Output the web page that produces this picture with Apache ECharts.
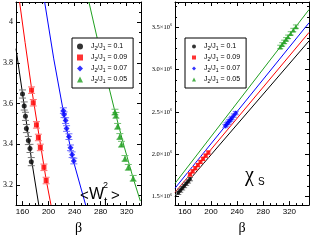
<!DOCTYPE html>
<html><head><meta charset="utf-8">
<script src="https://cdn.jsdelivr.net/npm/echarts@6/dist/echarts.min.js"></script>
<style>html,body{margin:0;padding:0;background:#fff}#c{width:310px;height:240px}</style>
</head><body><div id="c"></div>
<script>
// ---------- data: left panel  <W_t^2> ----------
const ratioLabels = ['0.1', '0.09', '0.07', '0.05'];

const blackBeta = [160, 162.6, 164.5, 166, 169, 171.5, 173.5];
const blackW    = [3.647, 3.588, 3.537, 3.477, 3.418, 3.379, 3.314];
const blackWErr = [0.02, 0.02, 0.02, 0.02, 0.02, 0.02, 0.02];
const redBeta   = [173.9, 176.5, 181.4, 184.4, 187.4, 192.9, 196.3];
const redW      = [3.666, 3.604, 3.495, 3.433, 3.384, 3.286, 3.221];
const redWErr   = [0.016, 0.016, 0.016, 0.016, 0.016, 0.016, 0.016];
const blueBeta  = [222.8, 223.8, 226.2, 227.7, 231.3, 233.7, 236.2, 238.8];
const blueW     = [3.565, 3.545, 3.516, 3.477, 3.437, 3.382, 3.348, 3.317];
const blueWErr  = [0.014, 0.014, 0.014, 0.014, 0.014, 0.014, 0.014, 0.014];
const greenBeta = [302, 303.5, 306.1, 309.5, 312, 317.4, 322.5, 330];
const greenW    = [3.558, 3.542, 3.488, 3.438, 3.400, 3.330, 3.286, 3.232];
const greenWErr = [0.014, 0.014, 0.014, 0.014, 0.014, 0.014, 0.014, 0.014];

// fit curves (left)
const blackFitBeta = [150, 160, 173.5, 185];
const blackFitW    = [3.87, 3.65, 3.33, 3.1];
const redFitBeta   = [155.5, 164, 173.9, 185, 196.3, 203.8];
const redFitW      = [4.1, 3.9, 3.675, 3.45, 3.225, 3.1];
const blueFitBeta  = [194, 208, 222.8, 230.5, 238.8, 257];
const blueFitW     = [4.1, 3.82, 3.56, 3.43, 3.31, 3.1];
const greenFitBeta = [262, 282, 302, 316, 330, 341];
const greenFitW    = [4.1, 3.82, 3.56, 3.39, 3.232, 3.12];

// ---------- data: right panel chi_S (units of 10^6) ----------
const blackChiBeta = [150, 153, 156, 159, 162, 165, 168];
const blackChi     = [1.545, 1.572, 1.599, 1.626, 1.653, 1.680, 1.707];
const redChiBeta   = [168, 172, 176, 180, 184, 188, 192, 196];
const redChi       = [1.762, 1.799, 1.836, 1.873, 1.910, 1.947, 1.984, 2.021];
const blueChiBeta  = [222, 224, 226, 228, 230, 232, 235, 238];
const blueChi      = [2.334, 2.353, 2.372, 2.391, 2.410, 2.429, 2.458, 2.487];
const greenChiBeta = [306, 309, 312, 315, 318, 322, 326, 330];
const greenChi     = [3.269, 3.299, 3.329, 3.359, 3.389, 3.429, 3.469, 3.509];
const chiErr       = 0.02;

const blackChiFitBeta = [145, 350];
const blackChiFit     = [1.50, 3.34];
const redChiFitBeta   = [145, 350];
const redChiFit       = [1.55, 3.44];
const blueChiFitBeta  = [145, 350];
const blueChiFit      = [1.60, 3.554];
const greenChiFitBeta = [145, 350];
const greenChiFit     = [1.657, 3.71];

// ---------- ticks ----------
const betaMajor = [160, 200, 240, 280, 320];
const betaMinor = [150, 170, 180, 190, 210, 220, 230, 250, 260, 270, 290, 300, 310, 330, 340];
const wMajor = [3.2, 3.4, 3.6, 3.8, 4.0];
const wMinor = [3.15, 3.25, 3.3, 3.35, 3.45, 3.5, 3.55, 3.65, 3.7, 3.75, 3.85, 3.9, 3.95, 4.05];
const chiMajor = [1.5, 2.0, 2.5, 3.0, 3.5];
const chiMinor = [1.625, 1.75, 1.875, 2.125, 2.25, 2.375, 2.625, 2.75, 2.875, 3.125, 3.25, 3.375, 3.625, 3.75];

// ---------- helpers ----------
const COLORS = ['#000000', '#ff0000', '#0000ff', '#1f9f1f'];
const ERRCOL = ['#777777', '#ff7070', '#7070ff', '#70c070'];
const SYMBOLS = ['circle', 'rect', 'diamond', 'triangle'];
const names = ratioLabels.map(v => 'J2/J1 = ' + v);
const zip = (a, b) => a.map((v, i) => [v, b[i]]);
const zip3 = (a, b, c) => a.map((v, i) => [v, b[i], Array.isArray(c) ? c[i] : c]);

const SANS = "'Liberation Sans Narrow','Liberation Sans',Arial,sans-serif";
const SANSW = "'Liberation Sans',Arial,sans-serif";
const SERIF = "'Liberation Serif','DejaVu Serif',serif";

function mkAxis(grid, pos, min, max, ticks, len, opts) {
  const a = {
    type: 'value', gridIndex: grid, position: pos, min: min, max: max,
    splitLine: { show: false },
    axisLine: { show: !!opts.line, onZero: false, lineStyle: { color: '#000', width: 1 } },
    axisTick: { show: true, inside: true, length: len, customValues: ticks, lineStyle: { color: '#000', width: 1 } },
    axisLabel: { show: false }
  };
  if (opts.label) a.axisLabel = Object.assign({ show: true, customValues: ticks }, opts.label);
  if (opts.name) Object.assign(a, opts.name);
  return a;
}

function errRender(capHalf, color) {
  return function (params, api) {
    const x = api.value(0), y = api.value(1), e = api.value(2);
    const lo = api.coord([x, y - e]), hi = api.coord([x, y + e]);
    const st = { stroke: color, lineWidth: 1 };
    return { type: 'group', children: [
      { type: 'line', shape: { x1: lo[0], y1: lo[1], x2: hi[0], y2: hi[1] }, style: st },
      { type: 'line', shape: { x1: lo[0] - capHalf, y1: lo[1], x2: lo[0] + capHalf, y2: lo[1] }, style: st },
      { type: 'line', shape: { x1: hi[0] - capHalf, y1: hi[1], x2: hi[0] + capHalf, y2: hi[1] }, style: st }
    ]};
  };
}

const betaName = { name: 'β', nameLocation: 'middle', nameGap: 15,
  nameTextStyle: { fontFamily: SERIF, fontSize: 14, color: '#000' } };
const xLab = { margin: 3, fontSize: 8, fontFamily: SANS, color: '#000' };

const xAxis = [
  mkAxis(0, 'bottom', 150, 342, betaMajor, 4, { line: true, label: xLab, name: betaName }),
  mkAxis(0, 'bottom', 150, 342, betaMinor, 2, {}),
  mkAxis(0, 'top', 150, 342, betaMajor, 4, { line: true }),
  mkAxis(0, 'top', 150, 342, betaMinor, 2, {}),
  mkAxis(1, 'bottom', 145, 350, betaMajor, 4, { line: true, label: xLab, name: betaName }),
  mkAxis(1, 'bottom', 145, 350, betaMinor, 2, {}),
  mkAxis(1, 'top', 145, 350, betaMajor, 4, { line: true }),
  mkAxis(1, 'top', 145, 350, betaMinor, 2, {})
];
const yAxis = [
  mkAxis(0, 'left', 3.1, 4.1, wMajor, 4, { line: true, label: { margin: 3, fontSize: 8, fontFamily: SERIF, color: '#000',
      formatter: v => (Math.abs(v - 4) < 1e-9 ? '4' : v.toFixed(1)) } }),
  mkAxis(0, 'left', 3.1, 4.1, wMinor, 2, {}),
  mkAxis(0, 'right', 3.1, 4.1, wMajor, 4, { line: true }),
  mkAxis(0, 'right', 3.1, 4.1, wMinor, 2, {}),
  mkAxis(1, 'left', 1.4, 3.8, chiMajor, 4, { line: true, label: { margin: 3, fontSize: 6.5, fontFamily: SERIF, color: '#000',
      formatter: v => '{n|' + v.toFixed(1) + '×10}{s|6}',
      rich: { n: { fontSize: 6.5, fontFamily: SERIF, color: '#000' }, s: { fontSize: 4, fontFamily: SERIF, color: '#000', verticalAlign: 'top', padding: [0, 0, 4, 0] } } } }),
  mkAxis(1, 'left', 1.4, 3.8, chiMinor, 2, {}),
  mkAxis(1, 'right', 1.4, 3.8, chiMajor, 4, { line: true }),
  mkAxis(1, 'right', 1.4, 3.8, chiMinor, 2, {})
];

const leftSets = [
  [blackBeta, blackW, blackWErr, blackFitBeta, blackFitW],
  [redBeta, redW, redWErr, redFitBeta, redFitW],
  [blueBeta, blueW, blueWErr, blueFitBeta, blueFitW],
  [greenBeta, greenW, greenWErr, greenFitBeta, greenFitW]
];
const rightSets = [
  [blackChiBeta, blackChi, blackChiFitBeta, blackChiFit],
  [redChiBeta, redChi, redChiFitBeta, redChiFit],
  [blueChiBeta, blueChi, blueChiFitBeta, blueChiFit],
  [greenChiBeta, greenChi, greenChiFitBeta, greenChiFit]
];
const symSizeL = [5, 5, 6, 6];
const symSizeR = [4, 4, 5, 5];

const series = [];
leftSets.forEach((s, i) => {
  series.push({ type: 'line', name: 'fitL' + i, xAxisIndex: 0, yAxisIndex: 0, data: zip(s[3], s[4]),
    smooth: false, showSymbol: false, silent: true, clip: true,
    lineStyle: { color: COLORS[i], width: 1 }, z: 2 });
  series.push({ type: 'custom', name: 'errL' + i, xAxisIndex: 0, yAxisIndex: 0, data: zip3(s[0], s[1], s[2]),
    renderItem: errRender(3.5, ERRCOL[i]), encode: { x: 0, y: 1 }, silent: true, clip: true, z: 3 });
  series.push({ type: 'scatter', name: names[i], xAxisIndex: 0, yAxisIndex: 0, data: zip(s[0], s[1]),
    symbol: SYMBOLS[i], symbolSize: symSizeL[i], itemStyle: { color: COLORS[i] }, z: 4 });
});
rightSets.forEach((s, i) => {
  series.push({ type: 'line', name: 'fitR' + i, xAxisIndex: 4, yAxisIndex: 4, data: zip(s[2], s[3]),
    showSymbol: false, silent: true, clip: true, lineStyle: { color: COLORS[i], width: 1 }, z: 2 });
  series.push({ type: 'custom', name: 'errR' + i, xAxisIndex: 4, yAxisIndex: 4, data: zip3(s[0], s[1], chiErr),
    renderItem: errRender(3, ERRCOL[i]), encode: { x: 0, y: 1 }, silent: true, clip: true, z: 3 });
  series.push({ type: 'scatter', name: names[i], xAxisIndex: 4, yAxisIndex: 4, data: zip(s[0], s[1]),
    symbol: SYMBOLS[i], symbolSize: symSizeR[i], itemStyle: { color: COLORS[i] }, z: 4 });
});

const legendText = {
  fontSize: 7, fontFamily: SANSW, color: '#000', lineHeight: 9,
  rich: {
    m: { fontSize: 7, fontFamily: SANSW, color: '#000', lineHeight: 9 },
    s: { fontSize: 5, fontFamily: SANSW, color: '#000', lineHeight: 9, verticalAlign: 'bottom', padding: [3, 0, 0, 0] },
    g: { width: 3 }
  }
};
const legendFmt = n => '{g|}{m|J}{s|2}{m|/J}{s|1}{m| = ' + n.split('= ')[1] + '}';
function mkLegend(left, top, pad, iw) {
  return {
    orient: 'vertical', left: left, top: top, padding: pad, itemGap: 2,
    itemWidth: iw, itemHeight: iw,
    backgroundColor: '#fff', borderColor: '#000', borderWidth: 1, borderRadius: 0,
    data: names.map((n, i) => ({ name: n, icon: SYMBOLS[i] })),
    formatter: legendFmt, textStyle: legendText, selectedMode: false
  };
}

const option = {
  animation: false,
  backgroundColor: '#fff',
  grid: [
    { left: 12, top: 2, width: 129, height: 215, containLabel: false },
    { left: 175, top: 2, width: 134, height: 215, containLabel: false }
  ],
  xAxis: xAxis,
  yAxis: yAxis,
  legend: [mkLegend(72, 38, [4, 6, 4, 5], 6), mkLegend(185, 38, [4, 6, 4, 7], 4)],
  graphic: [
    { type: 'text', left: 80, top: 188, z: 100, style: { text: '<', fontSize: 15, fontFamily: SANSW, fill: '#000' } },
    { type: 'text', left: 89, top: 187, z: 100, style: { text: 'W', fontSize: 16, fontFamily: SANSW, fill: '#000' } },
    { type: 'text', left: 103, top: 181, z: 100, style: { text: '2', fontSize: 9, fontFamily: SANSW, fill: '#000' } },
    { type: 'text', left: 104, top: 197, z: 100, style: { text: 't', fontSize: 12, fontFamily: SANSW, fill: '#000' } },
    { type: 'text', left: 111, top: 188, z: 100, style: { text: '>', fontSize: 15, fontFamily: SANSW, fill: '#000' } },
    { type: 'text', left: 245, top: 166, z: 100, style: { text: 'χ', fontSize: 20, fontFamily: SERIF, fill: '#000' } },
    { type: 'text', left: 258, top: 177, z: 100, style: { text: 'S', fontSize: 10, fontFamily: SANSW, fill: '#000' } }
  ],
  series: series
};
const chart = echarts.init(document.getElementById('c'), null, { renderer: 'canvas' });
chart.setOption(option);
</script>
</body></html>
